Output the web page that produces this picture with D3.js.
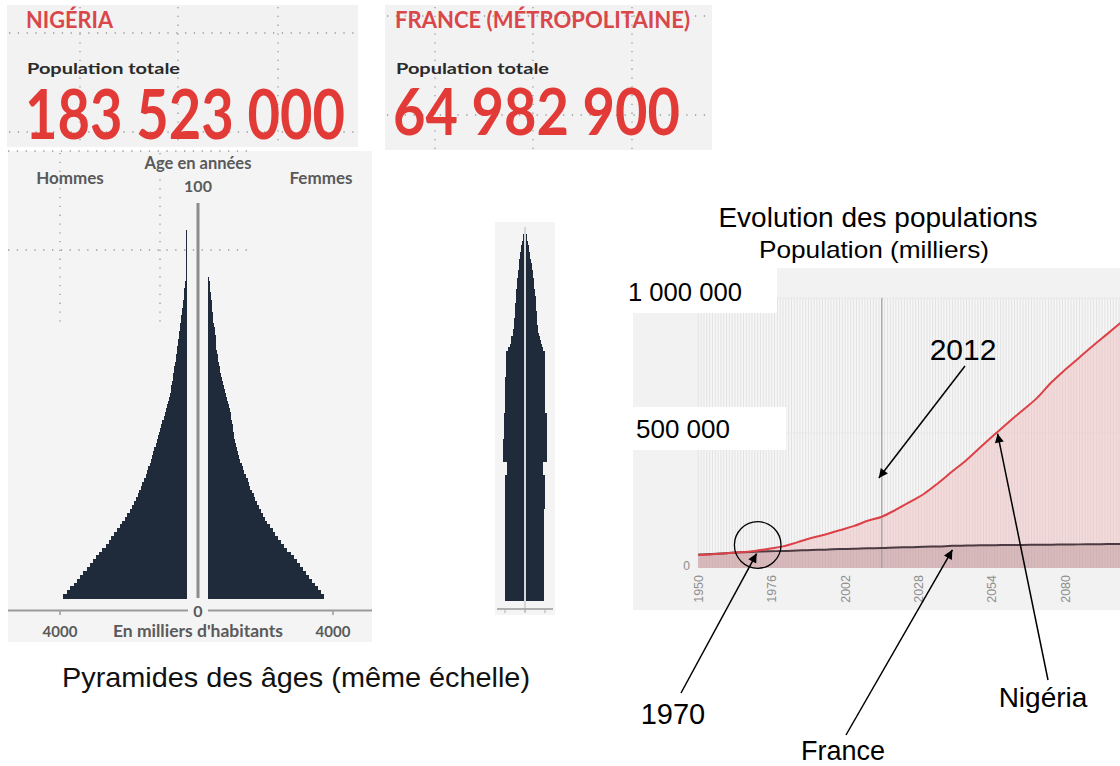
<!DOCTYPE html>
<html>
<head>
<meta charset="utf-8">
<script src="https://cdn.jsdelivr.net/npm/d3@7"></script>
<style>
  body { margin: 0; background: #fff; }
  svg { display: block; }
</style>
</head>
<body>
<div id="chart"></div>
<script>
// ---- data ----
const countries = ["NIGÉRIA", "FRANCE (MÉTROPOLITAINE)"];
const totals = ["183 523 000", "64 982 900"];

// age 0 .. 100, thousands per single year
const ages = d3.range(0, 101);
const nigeriaMale = [
  3890, 3790, 3680, 3570, 3470, 3360, 3260, 3160, 3060, 2960,
  2860, 2760, 2660, 2560, 2460, 2380, 2290, 2200, 2110, 2030,
  1950, 1880, 1800, 1730, 1660, 1600, 1550, 1500, 1450, 1400,
  1350, 1300, 1260, 1210, 1170, 1130, 1090, 1060, 1020, 980,
  950, 910, 870, 840, 800, 770, 730, 700, 660, 630,
  590, 560, 530, 500, 480, 460, 440, 420, 400, 390,
  370, 350, 340, 320, 300, 290, 270, 250, 240, 220,
  210, 190, 180, 160, 150, 130, 110, 100, 90, 70,
  60, 40, 25, 15, 15, 15, 15, 15, 15, 15,
  15, 15, 15, 15, 15, 0, 0, 0, 0, 0, 0
];
const nigeriaFemale = [
  3710, 3620, 3530, 3430, 3340, 3240, 3140, 3040, 2940, 2840,
  2740, 2640, 2540, 2440, 2340, 2250, 2150, 2060, 1970, 1880,
  1810, 1740, 1680, 1620, 1560, 1500, 1450, 1400, 1350, 1310,
  1260, 1210, 1160, 1110, 1070, 1030, 990, 960, 930, 900,
  870, 840, 820, 800, 780, 760, 740, 720, 700, 670,
  640, 600, 560, 520, 490, 460, 440, 410, 390, 370,
  340, 320, 300, 280, 260, 250, 240, 240, 220, 200,
  180, 160, 150, 140, 130, 120, 110, 100, 80, 70,
  55, 40, 25, 0, 0, 0, 0, 0, 0, 0,
  0, 0, 0, 0, 0, 0, 0, 0, 0, 0, 0
];
const franceMale = [
  400, 400, 400, 400, 400, 400, 400, 400, 400, 400,
  400, 400, 400, 400, 400, 400, 400, 400, 400, 400,
  400, 400, 400, 400, 400, 400, 400, 400, 400, 400,
  400, 400, 400, 400, 360, 360, 360, 360, 440, 440,
  440, 440, 440, 440, 420, 420, 420, 420, 420, 420,
  420, 400, 400, 400, 400, 400, 400, 400, 400, 400,
  400, 385, 385, 385, 385, 385, 385, 385, 330, 300,
  280, 265, 240, 230, 220, 215, 205, 200, 190, 185,
  180, 175, 170, 165, 160, 155, 150, 145, 135, 125,
  115, 105, 95, 85, 75, 65, 55, 40, 30, 15, 5
];
const franceFemale = [
  380, 380, 380, 380, 380, 380, 380, 380, 380, 380,
  380, 380, 380, 380, 380, 380, 380, 380, 380, 380,
  380, 380, 380, 380, 380, 395, 395, 395, 395, 395,
  395, 395, 395, 395, 360, 360, 360, 360, 440, 440,
  440, 440, 440, 440, 440, 440, 440, 440, 440, 440,
  440, 410, 410, 410, 410, 410, 410, 410, 410, 410,
  410, 410, 410, 410, 410, 410, 410, 410, 360, 340,
  320, 300, 270, 255, 245, 240, 235, 230, 225, 220,
  215, 210, 200, 195, 185, 175, 170, 165, 155, 145,
  135, 120, 105, 90, 80, 65, 55, 40, 30, 20, 8
];

// population in thousands
const years = [1950, 1955, 1960, 1965, 1970, 1975, 1980, 1985, 1990, 1995,
  2000, 2005, 2010, 2015, 2020, 2025, 2030, 2035, 2040, 2045,
  2050, 2055, 2060, 2065, 2070, 2075, 2080, 2085, 2090, 2095, 2100];
const nigeriaPop = [48000, 51000, 55000, 58000, 63000, 71000, 80000, 95000, 111000, 124000,
  140000, 155000, 175000, 190000, 216000, 245000, 275000, 315000, 358000, 400000,
  448000, 495000, 541000, 585000, 630000, 687000, 735000, 780000, 825000, 868000, 912000];
const francePop = [50000, 52000, 55000, 58000, 60000, 62000, 63000, 65000, 67000, 68000,
  70000, 71000, 73000, 74000, 76000, 77000, 79000, 80000, 82000, 83000,
  84000, 84500, 85000, 85500, 86000, 86500, 87000, 87500, 88000, 88500, 89000];
const yearTicks = [1950, 1976, 2002, 2028, 2054, 2080];
const popLabels = [[1000000, "1 000 000"], [500000, "500 000"]];
const markerYear = 2015;

// ---- svg ----
const width = 1120;
const height = 766;
const svg = d3.select("#chart").append("svg")
  .attr("width", width)
  .attr("height", height)
  .attr("viewBox", [0, 0, width, height]);

const boxFont = "Lato, 'Open Sans', sans-serif";
const chartFont = "'Liberation Sans', Arial, sans-serif";
const red = "#e23a36";
const grey = "#5a5a5a";

svg.append("defs").append("marker")
  .attr("id", "arrow")
  .attr("viewBox", "0 0 10 10")
  .attr("refX", 10).attr("refY", 5)
  .attr("markerWidth", 11).attr("markerHeight", 9)
  .attr("markerUnits", "userSpaceOnUse")
  .attr("orient", "auto")
  .append("path").attr("d", "M0,0 L10,5 L0,10 z").attr("fill", "#000");

svg.select("defs").append("clipPath").attr("id", "clip")
  .append("rect").attr("x", 0).attr("y", 0).attr("width", 1120).attr("height", 766);

const dotted = (g, x1, y1, x2, y2) => g.append("line")
  .attr("x1", x1).attr("y1", y1).attr("x2", x2).attr("y2", y2)
  .attr("stroke", "#9a9a9a").attr("stroke-width", 1.3)
  .attr("stroke-dasharray", "1.3,7.5");

// ---- total boxes ----
const boxes = [
  {x: 7, w: 351, h: 142, vx: [80, 178, 278], hy: [33, 132], tx: 26, tw: 87, nx: 25, nw: 320, ns: 64, nb: 139},
  {x: 385, w: 327, h: 145, vx: [435, 533, 632], hy: [16, 115], tx: 395, tw: 295, nx: 393, nw: 287, ns: 60, nb: 135}
];
boxes.forEach((b, i) => {
  const g = svg.append("g");
  g.append("rect").attr("x", b.x).attr("y", 5).attr("width", b.w).attr("height", b.h).attr("fill", "#f2f2f2");
  b.vx.forEach(x => dotted(g, x, 7, x, 5 + b.h));
  b.hy.forEach(y => dotted(g, b.x + 2, y, b.x + b.w, y));
  g.append("text").attr("x", b.tx).attr("y", 28)
    .attr("font-family", boxFont).attr("font-weight", "bold").attr("font-size", 23)
    .attr("fill", "#d9474a").attr("textLength", b.tw).attr("lengthAdjust", "spacingAndGlyphs")
    .text(countries[i]);
  g.append("text").attr("x", b.tx + 1).attr("y", 74)
    .attr("font-family", boxFont).attr("font-weight", "bold").attr("font-size", 16)
    .attr("fill", "#2a2a2a").attr("textLength", 153).attr("lengthAdjust", "spacingAndGlyphs")
    .text("Population totale");
  g.append("text").attr("x", b.nx).attr("y", b.nb)
    .attr("font-family", boxFont).attr("font-weight", "bold").attr("font-size", b.ns)
    .attr("fill", red).attr("textLength", b.nw).attr("lengthAdjust", "spacingAndGlyphs")
    .attr("transform", `translate(0,${b.nb}) scale(1,1.08) translate(0,${-b.nb})`)
    .text(totals[i]);
});

// ---- Nigeria pyramid ----
const pyr = svg.append("g");
pyr.append("rect").attr("x", 8).attr("y", 151).attr("width", 364).attr("height", 491).attr("fill", "#f4f4f4");
dotted(pyr, 8, 151, 250, 151);
dotted(pyr, 60, 153, 60, 322);
dotted(pyr, 160, 153, 160, 322);
dotted(pyr, 8, 250, 250, 250);

const ageY = d3.scaleBand().domain(ages).range([598, 207]).paddingInner(0);
const xMale = d3.scaleLinear().domain([0, 4000]).range([186.7, 60]);
const xFemale = d3.scaleLinear().domain([0, 4000]).range([208.3, 333]);
const barColor = "#1f2b3b";

pyr.append("g").attr("shape-rendering", "crispEdges").selectAll("rect")
  .data(ages)
  .join("rect")
    .attr("x", d => xMale(nigeriaMale[d]))
    .attr("y", d => ageY(d))
    .attr("width", d => xMale(0) - xMale(nigeriaMale[d]))
    .attr("height", ageY.bandwidth() + 1)
    .attr("fill", barColor);
pyr.append("g").attr("shape-rendering", "crispEdges").selectAll("rect")
  .data(ages)
  .join("rect")
    .attr("x", xFemale(0))
    .attr("y", d => ageY(d))
    .attr("width", d => xFemale(nigeriaFemale[d]) - xFemale(0))
    .attr("height", ageY.bandwidth() + 1)
    .attr("fill", barColor);

pyr.append("line").attr("x1", 198).attr("x2", 198).attr("y1", 203).attr("y2", 598)
  .attr("stroke", "#8c8c8c").attr("stroke-width", 3);

// bottom axis with gap for the 0
pyr.append("line").attr("x1", 8).attr("x2", 188).attr("y1", 610.5).attr("y2", 610.5)
  .attr("stroke", "#9a9a9a").attr("stroke-width", 2);
pyr.append("line").attr("x1", 208).attr("x2", 372).attr("y1", 610.5).attr("y2", 610.5)
  .attr("stroke", "#9a9a9a").attr("stroke-width", 2);
[xMale(4000), xFemale(4000)].forEach(x => pyr.append("line")
  .attr("x1", x).attr("x2", x).attr("y1", 610).attr("y2", 615)
  .attr("stroke", "#9a9a9a").attr("stroke-width", 1.5));

const pyrText = (x, y, t, size) => pyr.append("text")
  .attr("x", x).attr("y", y).attr("text-anchor", "middle")
  .attr("font-family", boxFont).attr("font-weight", "bold").attr("font-size", size)
  .attr("fill", grey).text(t);
pyrText(198, 169, "Age en années", 16.5);
pyrText(198, 192, "100", 16);
pyrText(70, 184, "Hommes", 17);
pyrText(321, 184, "Femmes", 17);
pyrText(198, 617, "0", 16);
pyrText(xMale(4000), 637, "4000", 15);
pyrText(xFemale(4000), 637, "4000", 15);
pyrText(198, 637, "En milliers d'habitants", 17.5);

// ---- France pyramid (same scale, narrower plot) ----
const fr = svg.append("g");
fr.append("rect").attr("x", 495).attr("y", 222).attr("width", 60).attr("height", 393).attr("fill", "#f4f4f4");
const ageYFr = d3.scaleBand().domain(ages).range([600, 230]);
const xFrMale = d3.scaleLinear().domain([0, 400]).range([524, 505]);
const xFrFemale = d3.scaleLinear().domain([0, 400]).range([526, 545]);
fr.append("g").attr("shape-rendering", "crispEdges").selectAll("rect")
  .data(ages)
  .join("rect")
    .attr("x", d => xFrMale(franceMale[d]))
    .attr("y", d => ageYFr(d))
    .attr("width", d => xFrMale(0) - xFrMale(franceMale[d]))
    .attr("height", ageYFr.bandwidth() + 1)
    .attr("fill", barColor);
fr.append("g").attr("shape-rendering", "crispEdges").selectAll("rect")
  .data(ages)
  .join("rect")
    .attr("x", xFrFemale(0))
    .attr("y", d => ageYFr(d))
    .attr("width", d => xFrFemale(franceFemale[d]) - xFrFemale(0))
    .attr("height", ageYFr.bandwidth() + 1)
    .attr("fill", barColor);
fr.append("line").attr("x1", 525).attr("x2", 525).attr("y1", 227).attr("y2", 612)
  .attr("stroke", "#d4d4d4").attr("stroke-width", 1.8);
fr.append("line").attr("x1", 497).attr("x2", 553).attr("y1", 609).attr("y2", 609)
  .attr("stroke", "#9a9a9a").attr("stroke-width", 1.5);
[xFrMale(400), 525, xFrFemale(400)].forEach(x => fr.append("line")
  .attr("x1", x).attr("x2", x).attr("y1", 609).attr("y2", 613)
  .attr("stroke", "#b0b0b0").attr("stroke-width", 1));

svg.append("text").attr("x", 296).attr("y", 687).attr("text-anchor", "middle")
  .attr("font-family", chartFont).attr("font-size", 28).attr("fill", "#111")
  .attr("textLength", 468).attr("lengthAdjust", "spacingAndGlyphs")
  .text("Pyramides des âges (même échelle)");

// ---- population evolution ----
const x = d3.scaleLinear().domain([1950, 2100]).range([698.3, 1121.8]);
const y = d3.scaleLinear().domain([0, 1000000]).range([568, 298]);
const series = years.map((yr, i) => ({year: yr, ng: nigeriaPop[i], fr: francePop[i]}));

const ev = svg.append("g").attr("clip-path", "url(#clip)");
ev.append("rect").attr("x", 633).attr("y", 268).attr("width", 487).attr("height", 342).attr("fill", "#f2f2f2");
ev.append("rect").attr("x", x(1950)).attr("y", y(1000000)).attr("width", x(2100) - x(1950))
  .attr("height", y(0) - y(1000000)).attr("fill", "#f6f6f6");
ev.append("g").selectAll("line")
  .data(d3.range(1950, 2101))
  .join("line")
    .attr("x1", d => x(d)).attr("x2", d => x(d))
    .attr("y1", y(1000000)).attr("y2", y(0))
    .attr("stroke", "#e2e2e2").attr("stroke-width", 1);
ev.append("g").selectAll("line")
  .data([500000, 1000000])
  .join("line")
    .attr("x1", x(1950)).attr("x2", x(2100))
    .attr("y1", d => y(d)).attr("y2", d => y(d))
    .attr("stroke", "#e8e8e8").attr("stroke-width", 1);

const curve = d3.curveMonotoneX;
ev.append("path").datum(series)
  .attr("d", d3.area().curve(curve).x(d => x(d.year)).y0(y(0)).y1(d => y(d.ng)))
  .attr("fill", "#f0b4b4").attr("fill-opacity", 0.4);
ev.append("path").datum(series)
  .attr("d", d3.area().curve(curve).x(d => x(d.year)).y0(y(0)).y1(d => y(d.fr)))
  .attr("fill", "#9b6e78").attr("fill-opacity", 0.3);

ev.append("line").attr("x1", x(markerYear)).attr("x2", x(markerYear))
  .attr("y1", y(1000000)).attr("y2", y(0))
  .attr("stroke", "#9c9c9c").attr("stroke-width", 1.2);

ev.append("path").datum(series)
  .attr("d", d3.line().curve(curve).x(d => x(d.year)).y(d => y(d.fr)))
  .attr("fill", "none").attr("stroke", "#4b3a41").attr("stroke-width", 2);
ev.append("path").datum(series)
  .attr("d", d3.line().curve(curve).x(d => x(d.year)).y(d => y(d.ng)))
  .attr("fill", "none").attr("stroke", "#dc4147").attr("stroke-width", 2);

ev.append("text").attr("x", 690).attr("y", y(0) + 2)
  .attr("text-anchor", "end").attr("font-family", chartFont).attr("font-size", 12)
  .attr("fill", "#8a8a8a").text("0");
ev.append("g").selectAll("text")
  .data(yearTicks)
  .join("text")
    .attr("transform", d => `translate(${x(d) + 4.5},575) rotate(-90)`)
    .attr("text-anchor", "end")
    .attr("font-family", chartFont).attr("font-size", 12.5)
    .attr("fill", "#8f8f8f")
    .text(d => d);

// white label boxes over the value axis
const labelBoxes = [{x: 622, y: 268, w: 155, h: 45, tx: 628, tw: 114}, {x: 622, y: 407, w: 164, h: 43, tx: 636, tw: 94}];
popLabels.forEach(([v, t], i) => {
  const b = labelBoxes[i];
  svg.append("rect").attr("x", b.x).attr("y", b.y).attr("width", b.w).attr("height", b.h).attr("fill", "#fff");
  svg.append("text").attr("x", b.tx).attr("y", y(v) + (i === 0 ? 3 : 5))
    .attr("font-family", chartFont).attr("font-size", 26).attr("fill", "#000")
    .attr("textLength", b.tw).attr("lengthAdjust", "spacingAndGlyphs")
    .text(t);
});

svg.append("text").attr("x", 878).attr("y", 227).attr("text-anchor", "middle")
  .attr("font-family", chartFont).attr("font-size", 28).attr("fill", "#000")
  .text("Evolution des populations");
svg.append("text").attr("x", 874).attr("y", 258).attr("text-anchor", "middle")
  .attr("font-family", chartFont).attr("font-size", 24).attr("fill", "#000")
  .attr("textLength", 230).attr("lengthAdjust", "spacingAndGlyphs")
  .text("Population (milliers)");

// ---- annotations ----
const crossYear = 1971;
svg.append("circle").attr("cx", 757.7).attr("cy", 545).attr("r", 23.3)
  .attr("fill", "none").attr("stroke", "#000").attr("stroke-width", 1.3);

const notes = [
  {t: "2012", tx: 963, ty: 360, size: 30, from: [965, 366], to: [x(markerYear) - 3, 478]},
  {t: "1970", tx: 673, ty: 724, size: 29, from: [681, 693], to: [x(crossYear) - 1, y(61000) + 2]},
  {t: "France", tx: 843, ty: 760, size: 27, from: [846, 735], to: [x(2040), y(82000) + 4]},
  {t: "Nigéria", tx: 1043, ty: 707, size: 28, from: [1048, 680], to: [x(2056), y(505000) + 2]}
];
notes.forEach(n => {
  svg.append("line")
    .attr("x1", n.from[0]).attr("y1", n.from[1]).attr("x2", n.to[0]).attr("y2", n.to[1])
    .attr("stroke", "#000").attr("stroke-width", 1.5)
    .attr("marker-end", "url(#arrow)");
  svg.append("text").attr("x", n.tx).attr("y", n.ty).attr("text-anchor", "middle")
    .attr("font-family", chartFont).attr("font-size", n.size).attr("fill", "#000")
    .text(n.t);
});
</script>
</body>
</html>
